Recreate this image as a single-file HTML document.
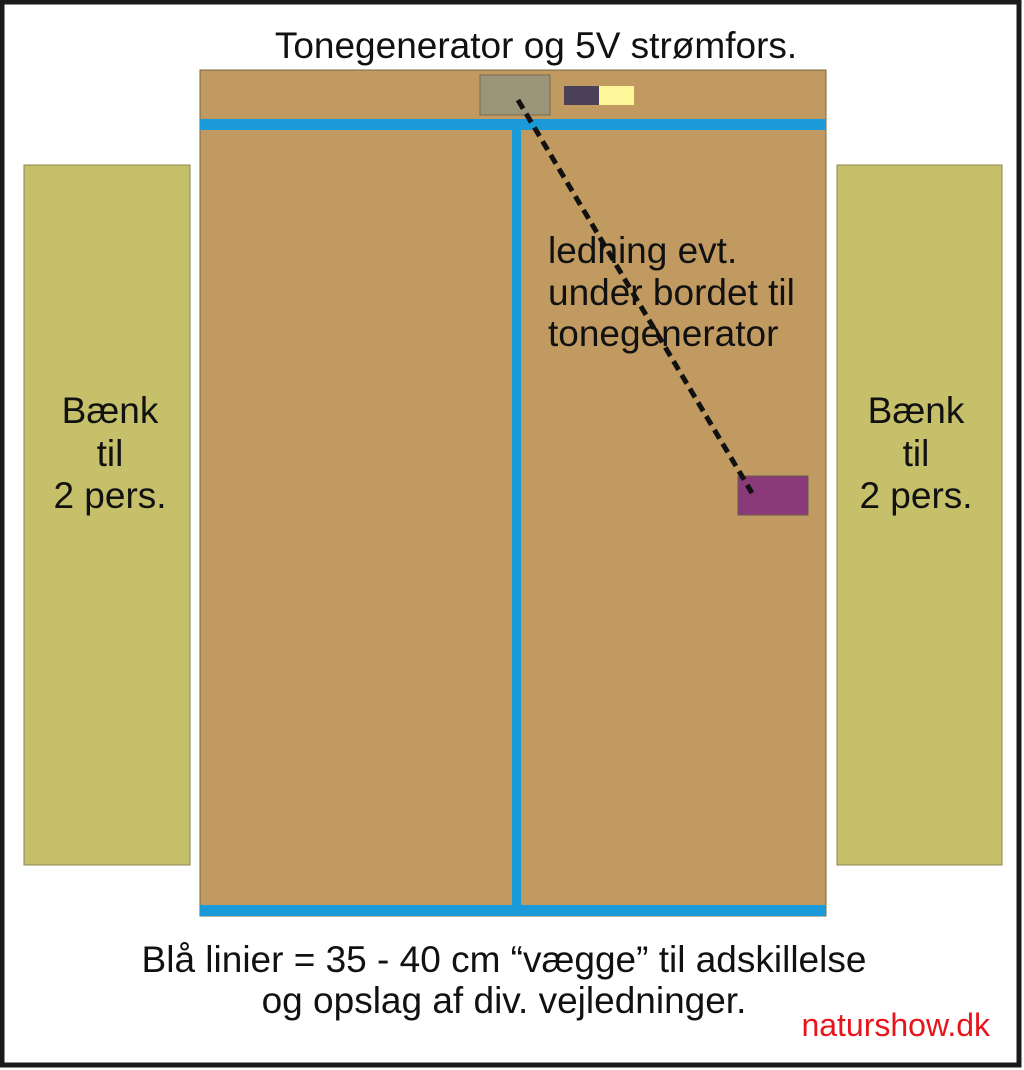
<!DOCTYPE html>
<html><head><style>html,body{margin:0;padding:0;background:#fff}svg{display:block}text{font-family:"Liberation Sans",sans-serif}</style></head>
<body>
<svg width="1024" height="1070" viewBox="0 0 1024 1070" xmlns="http://www.w3.org/2000/svg">
<rect x="0" y="0" width="1024" height="1070" fill="#fff"/>
<rect x="2" y="2" width="1017" height="1063" fill="none" stroke="#1a1a1a" stroke-width="5"/>
<text x="536" y="58" font-size="37" text-anchor="middle" fill="#111">Tonegenerator og 5V strømfors.</text>
<rect x="200" y="70" width="626" height="846" fill="#c09a60" stroke="#7a6640" stroke-width="1"/>
<rect x="200" y="119" width="626" height="11" fill="#1a9ad8"/>
<rect x="512" y="130" width="9" height="776" fill="#1a9ad8"/>
<rect x="200" y="905" width="626" height="11" fill="#1a9ad8"/>
<rect x="480" y="75" width="70" height="40" fill="#9a9478" stroke="#7a6a50" stroke-width="1"/>
<rect x="564" y="86" width="35" height="19" fill="#4a4158"/>
<rect x="599" y="86" width="35" height="19" fill="#fdf79a"/>
<rect x="738" y="476" width="70" height="39" fill="#8a3a78" stroke="#6a5a50" stroke-width="1"/>
<rect x="24" y="165" width="166" height="700" fill="#c6c06a" stroke="#8a8450" stroke-width="1"/>
<rect x="837" y="165" width="165" height="700" fill="#c6c06a" stroke="#8a8450" stroke-width="1"/>
<line x1="518" y1="100" x2="752" y2="493" stroke="#111" stroke-width="5" stroke-dasharray="10 6"/>
<g font-size="37" fill="#111" text-anchor="middle">
<text x="110" y="423">Bænk</text><text x="110" y="466">til</text><text x="110" y="508">2 pers.</text>
<text x="916" y="423">Bænk</text><text x="916" y="466">til</text><text x="916" y="508">2 pers.</text>
</g>
<g font-size="37" fill="#111">
<text x="548" y="263">ledning evt.</text>
<text x="548" y="305">under bordet til</text>
<text x="548" y="346">tonegenerator</text>
</g>
<g font-size="37" fill="#111" text-anchor="middle">
<text x="504" y="972">Blå linier = 35 - 40 cm “vægge” til adskillelse</text>
<text x="504" y="1013">og opslag af div. vejledninger.</text>
</g>
<text x="990" y="1036" font-size="32" fill="#e8141c" text-anchor="end">naturshow.dk</text>
</svg>
</body></html>
